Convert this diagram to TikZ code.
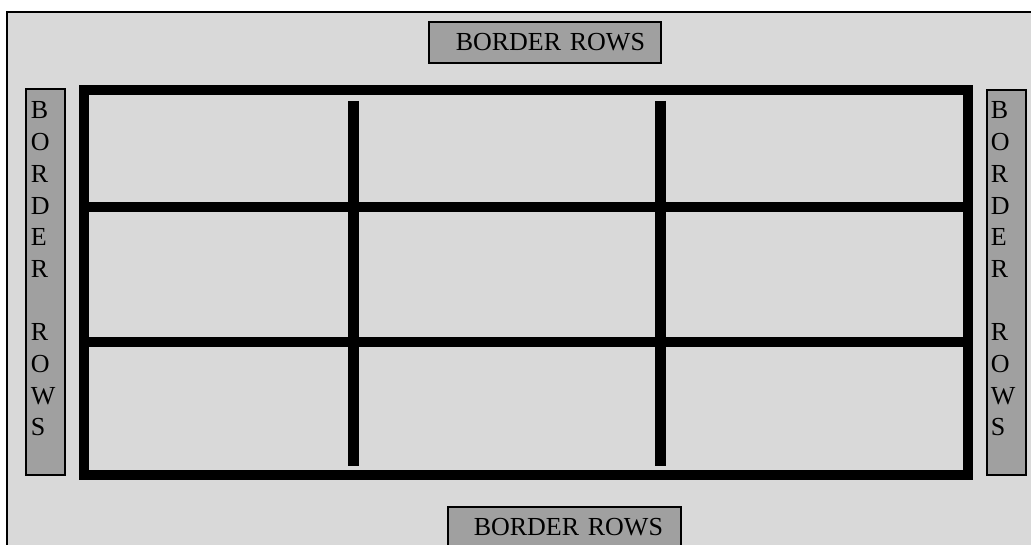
\documentclass[tikz,border=0pt]{standalone}
\usepackage{fontspec}
\setmainfont{Liberation Serif}
\usetikzlibrary{positioning}
\definecolor{pagebg}{RGB}{217,217,217}
\definecolor{tagfill}{RGB}{160,160,160}
\tikzset{
  tagbox/.style={draw=black, line width=2.5pt, fill=tagfill, inner sep=0pt},
  tagtext/.style={font=\fontsize{26}{31.7}\selectfont, inner sep=0pt},
  gridline/.style={line width=10.5pt}
}

\begin{document}
\begin{tikzpicture}[x=1pt,y=-1pt]
    \useasboundingbox (0,0) rectangle (1031,545);
    \fill[white] (0,0) rectangle (1031,545);
    \clip (0,0) rectangle (1031,545);
    \draw[line width=2pt, fill=pagebg] (7,12) rectangle (1045,560);

    % grid of nine cells
    \draw[gridline, line width=10pt] (84,90.5) rectangle (968,474.5);
    \foreach \y in {207,342.5} {\draw[gridline, line width=10pt] (84,\y) -- (968,\y);}
    \foreach \x in {353.5,660.5} {\draw[gridline] (\x,101) -- (\x,466);}

    % border tags
    \node[tagbox, tagtext, text width=200pt, inner xsep=16pt, align=right, minimum height=41pt] (toptag) at (545,42.5) {BORDER ROWS};
    \node[tagbox, tagtext, text width=197pt, inner xsep=18pt, align=right, minimum height=41pt] (bottomtag) at (564.5,527.5) {BORDER ROWS};

    \node[tagbox, minimum width=39pt, minimum height=386pt] (lefttag) at (45.5,282) {};
    \node[tagbox, minimum width=39pt, minimum height=385pt] (righttag) at (1006.5,282.5) {};
    \node[tagtext, align=left, below right=14pt and 6pt of lefttag.north west] (lefttext) {B\\O\\R\\D\\E\\R\\~\\R\\O\\W\\S};
    \node[tagtext, align=left, below right=13pt and 5pt of righttag.north west] (righttext) {B\\O\\R\\D\\E\\R\\~\\R\\O\\W\\S};
\end{tikzpicture}
\end{document}
